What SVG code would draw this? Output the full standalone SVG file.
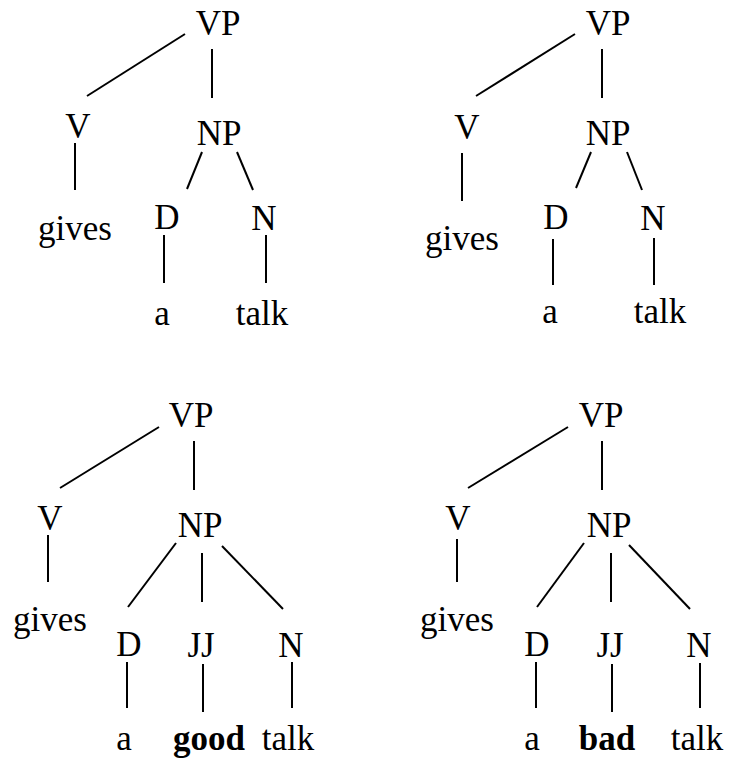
<svg xmlns="http://www.w3.org/2000/svg" width="731" height="762" viewBox="0 0 731 762">
<style>
text{font-family:"Liberation Serif","Times New Roman",serif;font-size:35px;fill:#000;text-anchor:middle}
.b{font-weight:bold}
line{stroke:#000;stroke-width:2;fill:none}
</style>
<rect width="731" height="762" fill="#fff"/>
<g id="connectors">
<line x1="185" y1="34" x2="87" y2="96"/>
<line x1="212" y1="49" x2="212" y2="98"/>
<line x1="75" y1="143" x2="75" y2="190"/>
<line x1="202" y1="152" x2="187" y2="189"/>
<line x1="237" y1="152" x2="253" y2="190"/>
<line x1="164" y1="235" x2="164" y2="283"/>
<line x1="266" y1="235" x2="266" y2="283"/>

<line x1="575" y1="34" x2="476" y2="96"/>
<line x1="602" y1="49" x2="602" y2="98"/>
<line x1="462" y1="153" x2="462" y2="201"/>
<line x1="591" y1="152" x2="576" y2="188"/>
<line x1="627" y1="152" x2="642" y2="190"/>
<line x1="553" y1="239" x2="553" y2="285"/>
<line x1="654" y1="238" x2="654" y2="285"/>

<line x1="159" y1="427" x2="60" y2="488"/>
<line x1="194" y1="441" x2="194" y2="490"/>
<line x1="48" y1="535" x2="48" y2="582"/>
<line x1="176" y1="543" x2="128" y2="607"/>
<line x1="202" y1="553" x2="202" y2="602"/>
<line x1="222" y1="546" x2="283" y2="609"/>
<line x1="127" y1="662" x2="127" y2="708"/>
<line x1="203" y1="664" x2="203" y2="712"/>
<line x1="292" y1="662" x2="292" y2="708"/>

<line x1="568" y1="427" x2="468" y2="488"/>
<line x1="602" y1="441" x2="602" y2="490"/>
<line x1="457" y1="539" x2="457" y2="582"/>
<line x1="584" y1="543" x2="537" y2="607"/>
<line x1="611" y1="553" x2="611" y2="602"/>
<line x1="629" y1="545" x2="690" y2="609"/>
<line x1="536" y1="662" x2="536" y2="708"/>
<line x1="612" y1="664" x2="612" y2="712"/>
<line x1="700" y1="663" x2="700" y2="708"/>
</g>
<g id="t1-VP"><text x="218" y="35">VP</text></g>
<g id="t1-V"><text x="78" y="138">V</text></g>
<g id="t1-NP"><text x="219" y="145">NP</text></g>
<g id="t1-gives"><text x="75" y="240">gives</text></g>
<g id="t1-D"><text x="167" y="229">D</text></g>
<g id="t1-N"><text x="264" y="230">N</text></g>
<g id="t1-a"><text x="162" y="325">a</text></g>
<g id="t1-talk"><text x="262" y="325">talk</text></g>

<g id="t2-VP"><text x="608" y="35">VP</text></g>
<g id="t2-V"><text x="467" y="139">V</text></g>
<g id="t2-NP"><text x="608" y="145">NP</text></g>
<g id="t2-gives"><text x="462" y="250">gives</text></g>
<g id="t2-D"><text x="556" y="229">D</text></g>
<g id="t2-N"><text x="653" y="230">N</text></g>
<g id="t2-a"><text x="550" y="323">a</text></g>
<g id="t2-talk"><text x="660" y="323">talk</text></g>

<g id="t3-VP"><text x="191" y="427">VP</text></g>
<g id="t3-V"><text x="50" y="530">V</text></g>
<g id="t3-NP"><text x="200" y="537">NP</text></g>
<g id="t3-gives"><text x="50" y="631">gives</text></g>
<g id="t3-D"><text x="129" y="656">D</text></g>
<g id="t3-JJ"><text x="201" y="657">JJ</text></g>
<g id="t3-N"><text x="291" y="657">N</text></g>
<g id="t3-a"><text x="124" y="750">a</text></g>
<g id="t3-good"><text class="b" x="209" y="750">good</text></g>
<g id="t3-talk"><text x="288" y="750">talk</text></g>

<g id="t4-VP"><text x="601" y="427">VP</text></g>
<g id="t4-V"><text x="458" y="530">V</text></g>
<g id="t4-NP"><text x="609" y="537">NP</text></g>
<g id="t4-gives"><text x="457" y="631">gives</text></g>
<g id="t4-D"><text x="537" y="656">D</text></g>
<g id="t4-JJ"><text x="610" y="657">JJ</text></g>
<g id="t4-N"><text x="699" y="657">N</text></g>
<g id="t4-a"><text x="532" y="750">a</text></g>
<g id="t4-bad"><text class="b" x="607" y="750">bad</text></g>
<g id="t4-talk"><text x="697" y="750">talk</text></g>
</svg>
